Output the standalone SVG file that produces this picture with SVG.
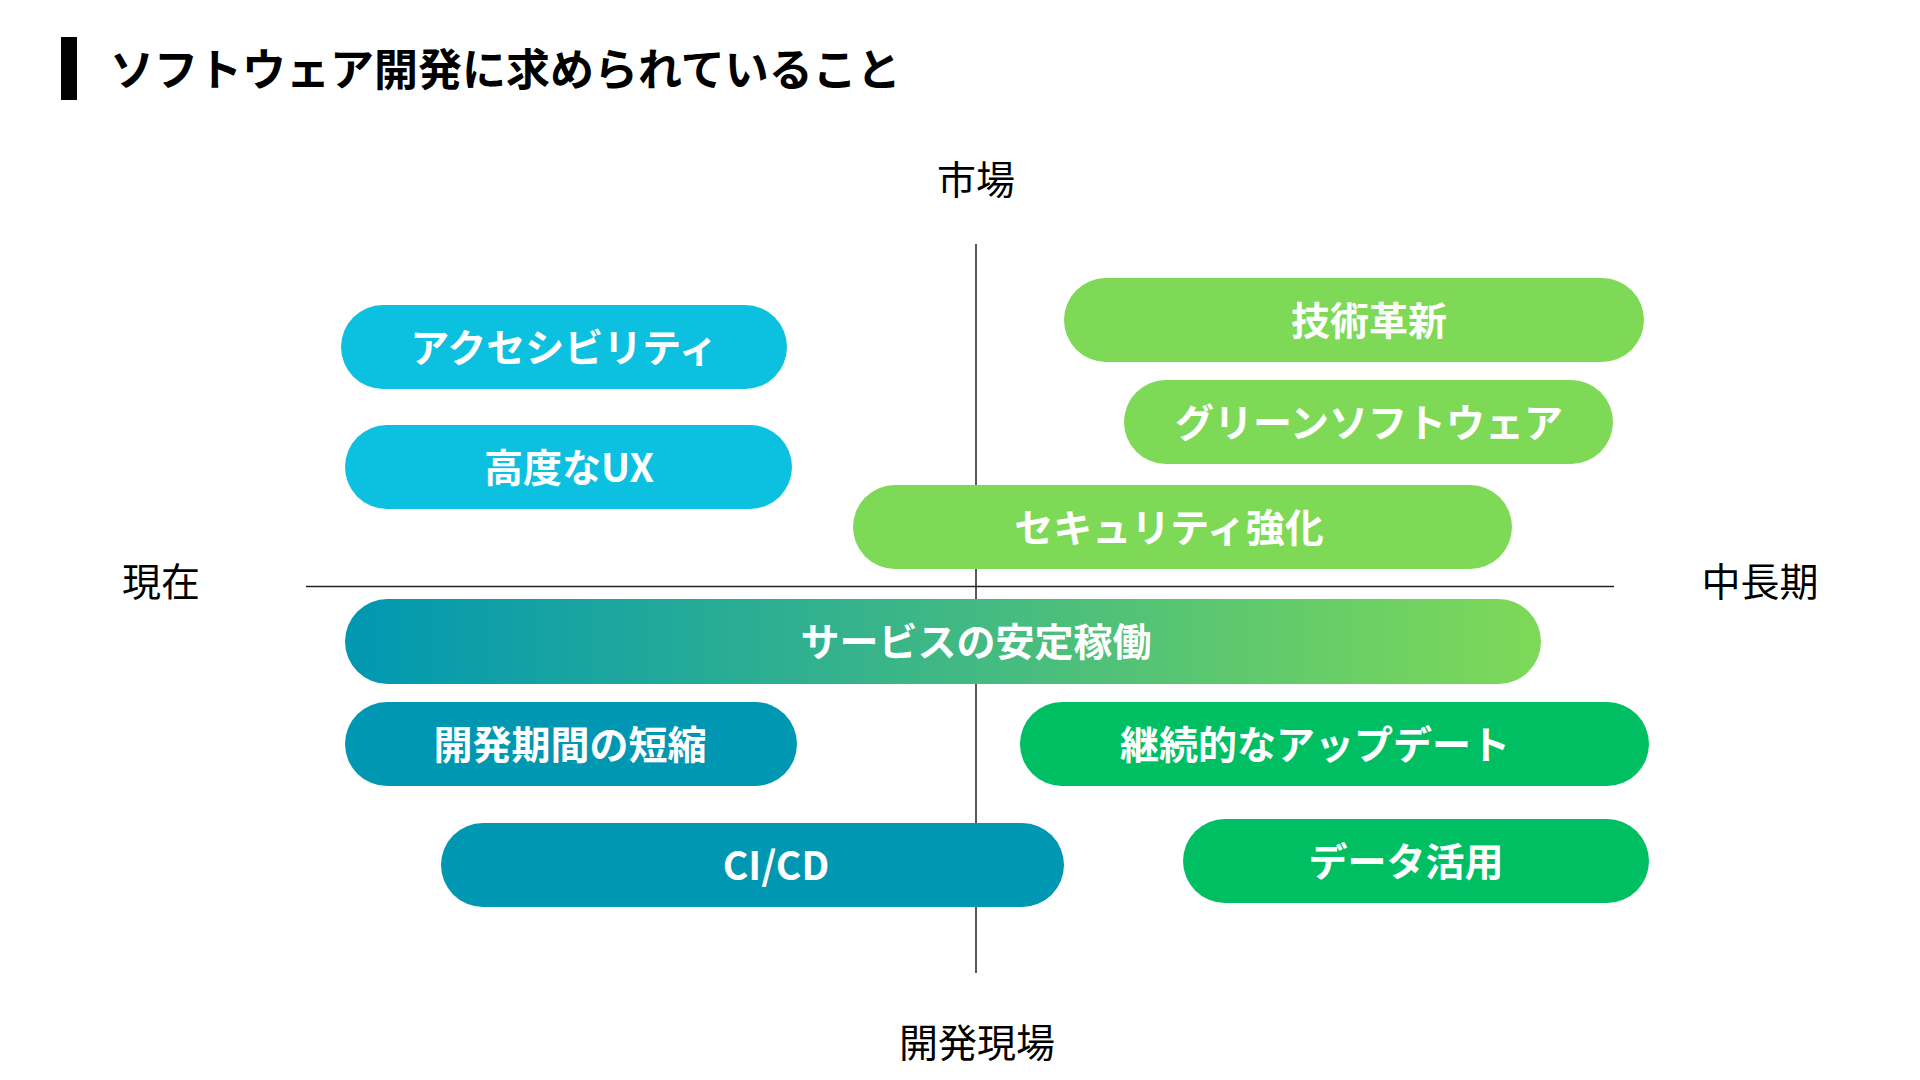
<svg xmlns="http://www.w3.org/2000/svg" width="1920" height="1080" viewBox="0 0 1920 1080">
<defs>
<linearGradient id="gradStable" x1="0" y1="0" x2="1" y2="0">
<stop offset="0" stop-color="#0097B2"/>
<stop offset="1" stop-color="#7ED957"/>
</linearGradient>
<style>
.title{font-family:"Noto Sans CJK JP","Noto Sans",sans-serif;font-weight:700;font-size:44px;fill:#000}
.axis{font-family:"Noto Sans CJK JP","Noto Sans",sans-serif;font-weight:400;font-size:39px;fill:#000;text-anchor:middle;dominant-baseline:central}
.lbl{font-family:"Noto Sans CJK JP","Noto Sans",sans-serif;font-weight:700;font-size:39px;fill:#fff;text-anchor:middle;dominant-baseline:central}
.cyan{fill:#0CC0DF}
.lgreen{fill:#7ED957}
.green{fill:#00BF63}
.teal{fill:#0097B2}
.axisline{stroke:#222;stroke-width:1.5;fill:none}
</style>
</defs>
<rect width="1920" height="1080" fill="#fff"/>
<g id="title">
<rect x="61" y="37" width="16" height="63" fill="#000"/>
<text class="title" x="110" y="67" dominant-baseline="central">ソフトウェア開発に求められていること</text>
</g>
<g id="connectors">
<line class="axisline" x1="976" y1="244" x2="976" y2="973"/>
<line class="axisline" x1="306" y1="586.5" x2="1614" y2="586.5"/>
</g>
<g id="axis-labels">
<text class="axis" x="976" y="177">市場</text>
<text class="axis" x="977" y="1040">開発現場</text>
<text class="axis" x="161" y="579">現在</text>
<text class="axis" x="1760" y="579">中長期</text>
</g>
<g id="node-accessibility">
<rect class="cyan" x="341" y="305" width="446" height="84" rx="42"/>
<text class="lbl" x="564" y="345">アクセシビリティ</text>
</g>
<g id="node-ux">
<rect class="cyan" x="345" y="425" width="447" height="84" rx="42"/>
<text class="lbl" x="569" y="465">高度なUX</text>
</g>
<g id="node-tech">
<rect class="lgreen" x="1064" y="278" width="580" height="84" rx="42"/>
<text class="lbl" x="1369" y="318">技術革新</text>
</g>
<g id="node-green">
<rect class="lgreen" x="1124" y="380" width="489" height="84" rx="42"/>
<text class="lbl" x="1369" y="420">グリーンソフトウェア</text>
</g>
<g id="node-security">
<rect class="lgreen" x="853" y="485" width="659" height="84" rx="42"/>
<text class="lbl" x="1169" y="525">セキュリティ強化</text>
</g>
<g id="node-stable">
<rect x="345" y="599" width="1196" height="85" rx="42.5" fill="url(#gradStable)"/>
<text class="lbl" x="976" y="639">サービスの安定稼働</text>
</g>
<g id="node-shorten">
<rect class="teal" x="345" y="702" width="452" height="84" rx="42"/>
<text class="lbl" x="570" y="742">開発期間の短縮</text>
</g>
<g id="node-cicd">
<rect class="teal" x="441" y="823" width="623" height="84" rx="42"/>
<text class="lbl" x="776" y="863">CI/CD</text>
</g>
<g id="node-update">
<rect class="green" x="1020" y="702" width="629" height="84" rx="42"/>
<text class="lbl" x="1315" y="742">継続的なアップデート</text>
</g>
<g id="node-data">
<rect class="green" x="1183" y="819" width="466" height="84" rx="42"/>
<text class="lbl" x="1406" y="859">データ活用</text>
</g>
</svg>
